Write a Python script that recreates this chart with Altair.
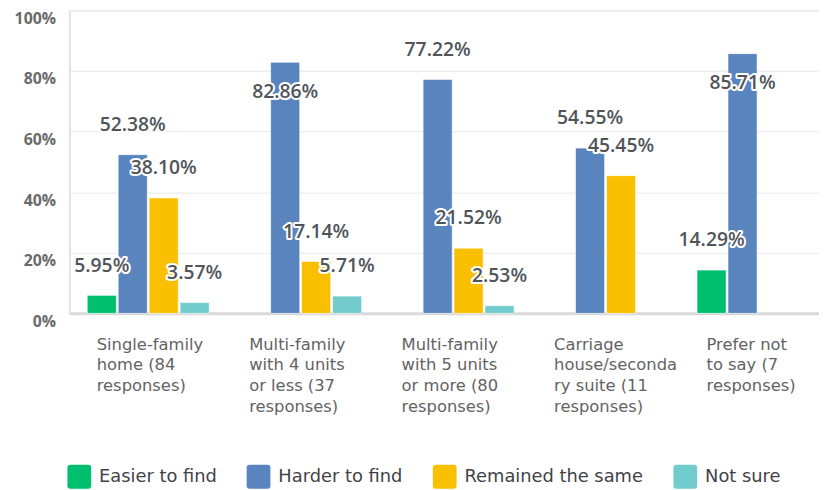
import altair as alt
import pandas as pd

categories = [
    "Single-family\nhome (84\nresponses)",
    "Multi-family\nwith 4 units\nor less (37\nresponses)",
    "Multi-family\nwith 5 units\nor more (80\nresponses)",
    "Carriage\nhouse/seconda\nry suite (11\nresponses)",
    "Prefer not\nto say (7\nresponses)",
]
series = ["Easier to find", "Harder to find", "Remained the same", "Not sure"]
colors = ["#00BF6F", "#5A84BD", "#F9C000", "#72CCCD"]

easier = [5.95, 0, 0, 0, 14.29]
harder = [52.38, 82.86, 77.22, 54.55, 85.71]
same = [38.10, 17.14, 21.52, 45.45, 0]
not_sure = [3.57, 5.71, 2.53, 0, 0]

y_ticks = [0, 10, 20, 30, 40, 50, 60, 70, 80, 90, 100]

rows = []
for s, vals in zip(series, [easier, harder, same, not_sure]):
    for c, v in zip(categories, vals):
        rows.append({"category": c, "series": s, "value": v})
df = pd.DataFrame(rows)

FONT = "Open Sans"
TFONT = "DejaVu Sans"

x_enc = alt.X(
    "category:N",
    sort=categories,
    title=None,
    scale=alt.Scale(paddingInner=0.2, paddingOuter=0.0585, align=1),
    axis=alt.Axis(
        labelExpr="split(datum.label, '\\n')",
        labelAngle=0,
        labelAlign="left",
        labelBaseline="top",
        labelOffset=-52,
        labelPadding=23,
        labelFont=TFONT,
        labelFontSize=16.5,
        labelColor="#636363",
        labelLineHeight=21,
        labelLimit=300,
        ticks=False,
        domainColor="#d9d9d9",
        domainWidth=3,
        grid=False,
    ),
)
xoff_enc = alt.XOffset(
    "series:N", sort=series, scale=alt.Scale(domain=series, paddingInner=0.06, paddingOuter=0)
)
y_scale = alt.Scale(domain=[0, 100], nice=False)

bars = (
    alt.Chart(df)
    .transform_filter("datum.value > 0")
    .mark_bar(stroke="white", strokeWidth=0.6)
    .encode(
        x=x_enc,
        xOffset=xoff_enc,
        y=alt.Y(
            "value:Q",
            scale=y_scale,
            title=None,
            axis=alt.Axis(
                values=y_ticks,
                labelExpr="datum.value % 20 == 0 ? datum.value + '%' : ''",
                labelFont=FONT,
                labelFontSize=16,
                labelFontWeight=700,
                labelColor="#6a6a6a",
                labelPadding=14,
                labelOffset=8,
                ticks=False,
                domainColor="#e3e3e3",
                domainWidth=2,
                gridColor="#ededed",
                gridWidth=1.3,
            ),
        ),
        color=alt.Color(
            "series:N",
            sort=series,
            scale=alt.Scale(domain=series, range=colors),
            legend=alt.Legend(
                title=None,
                orient="none",
                direction="horizontal",
                legendX=-2,
                legendY=459,
                padding=0,
                symbolType="M-0.75,-1L0.75,-1Q1,-1 1,-0.75L1,0.75Q1,1 0.75,1L-0.75,1Q-1,1 -1,0.75L-1,-0.75Q-1,-1 -0.75,-1Z",
                symbolSize=576,
                symbolStrokeWidth=0,
                symbolOpacity=1,
                labelFont=TFONT,
                labelFontSize=18,
                labelColor="#3f4347",
                labelOffset=8,
                columnPadding=30,
                labelLimit=300,
            ),
        ),
    )
)

def labels(cond, dy, halo):
    kw = dict(
        font=FONT,
        fontSize=19.5,
        fontWeight=600,
        baseline="middle",
        align="center",
        dy=dy,
    )
    if halo:
        kw.update(stroke="white", strokeWidth=4, strokeJoin="round", fill="white")
    else:
        kw.update(fill="#50555a")
    return (
        alt.Chart(df)
        .transform_filter("datum.value > 0")
        .transform_filter(cond)
        .transform_calculate(label="format(datum.value, '.2f') + '%'")
        .mark_text(**kw)
        .encode(
            x=alt.X("category:N", sort=categories),
            xOffset=alt.XOffset("series:N", sort=series),
            y=alt.Y("value:Q", scale=y_scale),
            text="label:N",
        )
    )

low = "datum.value < 80"
high = "datum.value >= 80"

chart = alt.layer(
    bars,
    labels(low, -30, True),
    labels(high, 30, True),
    labels(low, -30, False),
    labels(high, 30, False),
).properties(
    width=757,
    height=306,
    padding={"left": 62, "top": 0, "right": 0, "bottom": 176},
    autosize=alt.AutoSizeParams(type="none"),
).configure_view(stroke=None).configure(background="white")

chart.save("out.html", embed_options={"renderer": "svg", "actions": False})
